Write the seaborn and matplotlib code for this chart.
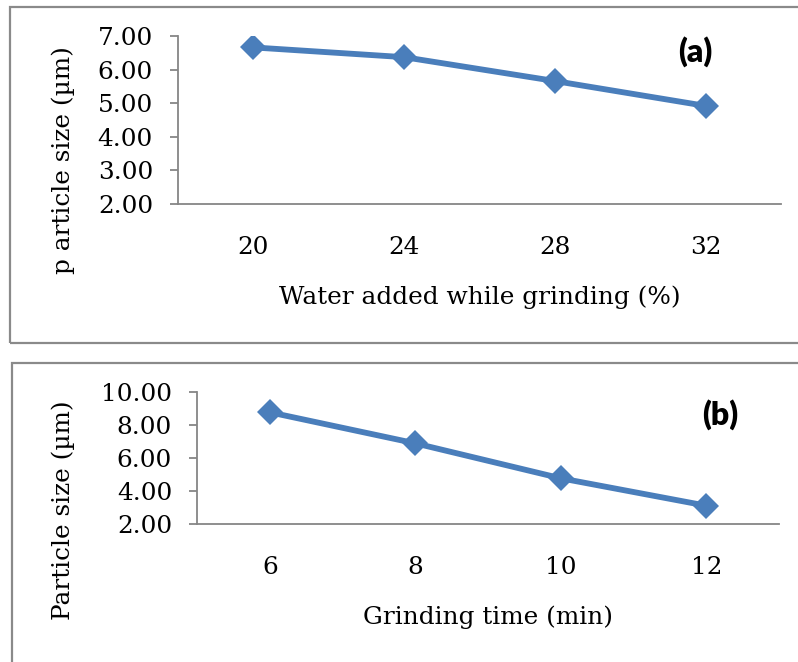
import matplotlib
matplotlib.use("Agg")
import matplotlib.pyplot as plt
import seaborn as sns
import pandas as pd
from matplotlib.patches import Rectangle
from matplotlib.ticker import FormatStrFormatter

# Panel (a): particle size vs water added while grinding
water_pct = ["20", "24", "28", "32"]
size_a = [6.66, 6.37, 5.66, 4.92]

# Panel (b): particle size vs grinding time
grind_min = ["6", "8", "10", "12"]
size_b = [8.77, 6.89, 4.77, 3.11]

yticks_a = [2, 3, 4, 5, 6, 7]
yticks_b = [2, 4, 6, 8, 10]

sns.set_style("white")
plt.rcParams["font.family"] = ["DejaVu Serif"]
plt.rcParams["text.color"] = "black"
plt.rcParams["axes.labelcolor"] = "black"

W, H = 798, 662
fig = plt.figure(figsize=(W / 100, H / 100), dpi=100)

LINE = "#4a7ebb"
AXC = "#868686"
BOX = "#8a8a8a"
FS = 17.8


def px_axes(l, t, r, b):
    return fig.add_axes([l / W, 1 - b / H, (r - l) / W, (b - t) / H])


def style(ax, ylim, yticks, xlabel, ylabel, xlab_y, ylab_xy):
    ax.set_xlim(-0.5, 3.5)
    ax.set_ylim(*ylim)
    ax.set_yticks(yticks)
    ax.yaxis.set_major_formatter(FormatStrFormatter("%.2f"))
    for s in ["top", "right"]:
        ax.spines[s].set_visible(False)
    for s in ["left", "bottom"]:
        ax.spines[s].set_color(AXC)
        ax.spines[s].set_linewidth(1.3)
    ax.tick_params(axis="x", length=0, pad=23, labelsize=FS, labelcolor="black")
    ax.tick_params(axis="y", left=True, length=6, width=1.3, color=AXC,
                   pad=12, labelsize=FS, labelcolor="black")
    ax.set_xlabel(xlabel, fontsize=FS, va="center")
    ax.xaxis.set_label_coords(0.5, xlab_y)
    ax.set_ylabel(ylabel, fontsize=FS, va="center")
    ax.yaxis.set_label_coords(*ylab_xy)
    ax.grid(False)


# Panel frames
fig.add_artist(Rectangle((10 / W, 1 - 343 / H), 1.0, (343 - 7) / H,
                         transform=fig.transFigure, fill=False,
                         edgecolor=BOX, linewidth=1.6))
fig.add_artist(Rectangle((12 / W, -0.1), 1.0, 0.1 + (H - 363) / H,
                         transform=fig.transFigure, fill=False,
                         edgecolor=BOX, linewidth=1.6))

MS = 13
LW = 4.2

# (a)
ax1 = px_axes(178, 36, 781, 204)
df_a = pd.DataFrame({"water": water_pct, "size": size_a})
sns.pointplot(data=df_a, x="water", y="size", order=water_pct, ax=ax1,
              color=LINE, marker="D", markersize=MS, linewidth=LW,
              errorbar=None, markeredgewidth=0)
style(ax1, (2, 7), yticks_a, "Water added while grinding (%)",
      "p article size (\u00b5m)", (204 - 297) / 168,
      ((63 - 178) / 603, (204 - 160) / 168))
fig.text(695 / W, 1 - 52 / H, "(a)", family=["Lato", "DejaVu Sans"],
         fontweight="heavy", fontsize=23, ha="center", va="center")

# (b)
ax2 = px_axes(197, 392, 779, 524)
df_b = pd.DataFrame({"time": grind_min, "size": size_b})
sns.pointplot(data=df_b, x="time", y="size", order=grind_min, ax=ax2,
              color=LINE, marker="D", markersize=MS, linewidth=LW,
              errorbar=None, markeredgewidth=0)
style(ax2, (2, 10), yticks_b, "Grinding time (min)",
      "Particle size (\u00b5m)", (524 - 617) / 132,
      ((63 - 197) / 582, (524 - 510) / 132))
fig.text(720 / W, 1 - 415 / H, "(b)", family=["Lato", "DejaVu Sans"],
         fontweight="heavy", fontsize=23, ha="center", va="center")

fig.savefig("out.png", dpi=100)
